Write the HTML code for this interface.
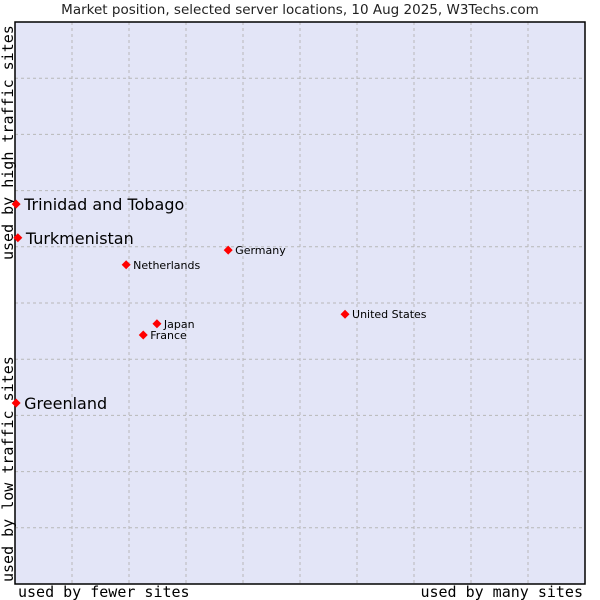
<!DOCTYPE html>
<html><head><meta charset="utf-8"><style>
body{margin:0;background:#fff;}
svg{display:block;}
</style></head><body>
<svg id="chart" width="600" height="600" xmlns="http://www.w3.org/2000/svg">
<text x="300" y="14" text-anchor="middle" font-family="DejaVu Sans, Liberation Sans, sans-serif" font-size="13.5" fill="#222">Market position, selected server locations, 10 Aug 2025, W3Techs.com</text>
<rect x="15" y="22" width="570" height="562" fill="#e3e5f7"/>
<g id="grid"></g>
<rect x="15" y="22" width="570" height="562" fill="none" stroke="#000" stroke-width="1.5"/>
<text x="18" y="597" font-family="DejaVu Sans Mono, Liberation Mono, monospace" font-size="15" fill="#000">used by fewer sites</text>
<text x="583" y="597" text-anchor="end" font-family="DejaVu Sans Mono, Liberation Mono, monospace" font-size="15" fill="#000">used by many sites</text>
<text transform="translate(13,260) rotate(-90)" font-family="DejaVu Sans Mono, Liberation Mono, monospace" font-size="15" fill="#000">used by high traffic sites</text>
<text transform="translate(13,582) rotate(-90)" font-family="DejaVu Sans Mono, Liberation Mono, monospace" font-size="15" fill="#000">used by low traffic sites</text>
<g id="points"></g>
</svg>
<script>
const labels = ["Trinidad and Tobago","Turkmenistan","Greenland","Germany","Netherlands","United States","Japan","France"];
const xValues = [0.02,0.05,0.02,3.74,1.95,5.79,2.49,2.25];
const yValues = [6.76,6.16,3.22,5.94,5.68,4.80,4.63,4.43];
const bigLabel = [true,true,true,false,false,false,false,false];
const NS="http://www.w3.org/2000/svg";
const X0=15,Y0=22,W=570,H=562;
function sx(v){return X0+v/10*W;}
function sy(v){return Y0+H-v/10*H;}
const grid=document.getElementById('grid');
for(let i=1;i<10;i++){
  const v=document.createElementNS(NS,'line');
  v.setAttribute('x1',sx(i));v.setAttribute('x2',sx(i));v.setAttribute('y1',Y0);v.setAttribute('y2',Y0+H);
  v.setAttribute('stroke','#b8b8b8');v.setAttribute('stroke-dasharray','3,3');
  
  
  grid.appendChild(v);
  const h=document.createElementNS(NS,'line');
  h.setAttribute('y1',sy(i));h.setAttribute('y2',sy(i));h.setAttribute('x1',X0);h.setAttribute('x2',X0+W);
  h.setAttribute('stroke','#b8b8b8');h.setAttribute('stroke-dasharray','3,3');
  
  
  grid.appendChild(h);
}
const pts=document.getElementById('points');
labels.forEach((lab,i)=>{
  const x=sx(xValues[i]),y=sy(yValues[i]);
  const m=document.createElementNS(NS,'polygon');
  m.setAttribute('points',`${x},${y-4.5} ${x+4.5},${y} ${x},${y+4.5} ${x-4.5},${y}`);
  m.setAttribute('fill','#ff0000');
  
  
  pts.appendChild(m);
  const t=document.createElementNS(NS,'text');
  t.setAttribute('x',x+(bigLabel[i]?8:7));
  t.setAttribute('y',y+(bigLabel[i]?6:4));
  t.setAttribute('font-family','DejaVu Sans, Liberation Sans, sans-serif');
  t.setAttribute('font-size',bigLabel[i]?'16':'11');
  t.setAttribute('fill','#000');
  t.textContent=lab;
  
  
  pts.appendChild(t);
});
</script>
</body></html>
